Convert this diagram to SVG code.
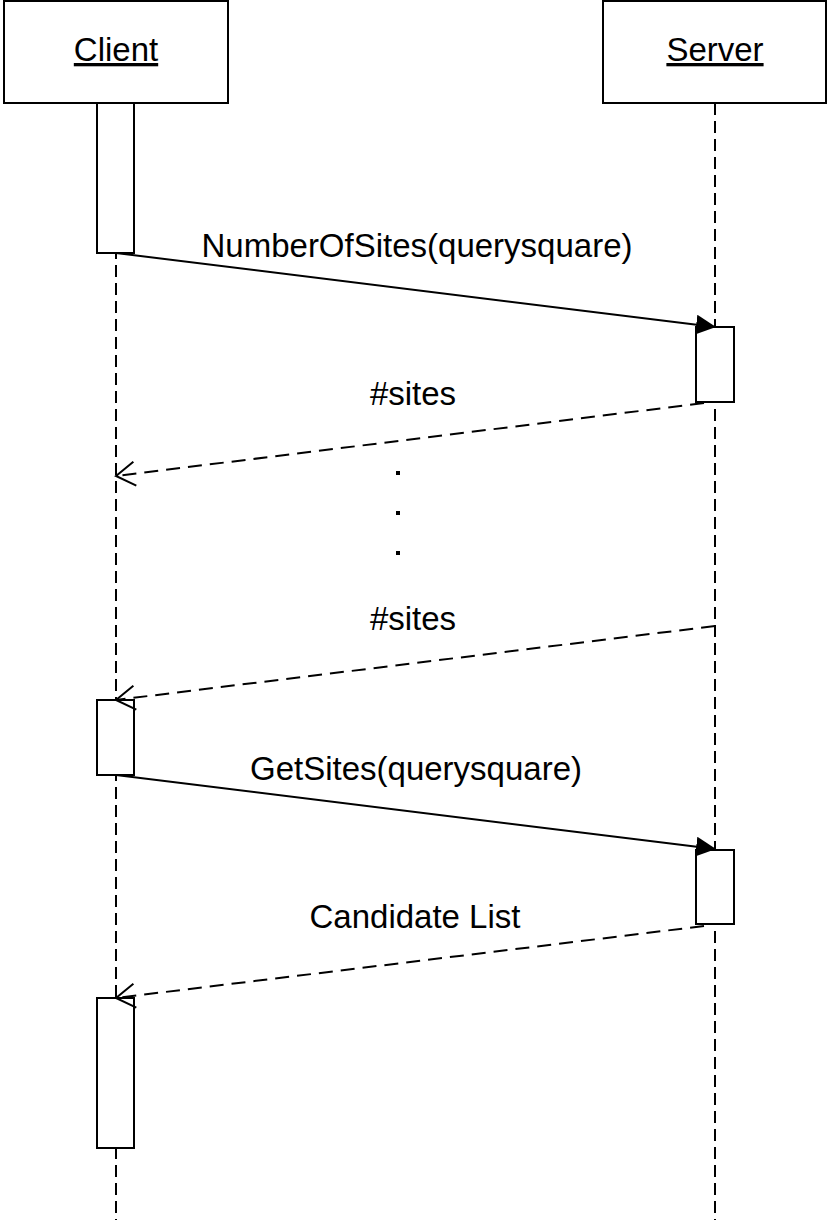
<svg xmlns="http://www.w3.org/2000/svg" width="827" height="1220" viewBox="0 0 827 1220">
<style>
.box{fill:#fff;stroke:#000;stroke-width:2}
.act{fill:#fff;stroke:#000;stroke-width:2}
.life{stroke:#000;stroke-width:2;stroke-dasharray:12,6;fill:none}
.msg{stroke:#000;stroke-width:2;fill:none}
.ret{stroke:#000;stroke-width:2;stroke-dasharray:14,8;fill:none}
text{font-family:"Liberation Sans",Arial,sans-serif;font-size:33px;fill:#000}
.title{text-decoration:underline;font-size:33px}
</style>
<defs>
<marker id="filled" markerWidth="20" markerHeight="20" refX="19" refY="10" orient="auto" markerUnits="userSpaceOnUse">
<path d="M0,0 L20,10 L0,20 z" fill="#000"/>
</marker>
<marker id="open" markerWidth="22" markerHeight="26" refX="20" refY="13" orient="auto" markerUnits="userSpaceOnUse">
<path d="M1,1 L20,13 L1,25" fill="none" stroke="#000" stroke-width="2"/>
</marker>
</defs>
<g id="lifelines">
<line class="life" x1="116" y1="103" x2="116" y2="1220"/>
<line class="life" x1="715" y1="103" x2="715" y2="1220"/>
</g>
<g id="client">
<rect class="box" x="4" y="1" width="224" height="102"/>
<text class="title" x="116" y="61" text-anchor="middle">Client</text>
</g>
<g id="server">
<rect class="box" x="603" y="1" width="223" height="102"/>
<text class="title" x="715" y="61" text-anchor="middle">Server</text>
</g>
<g id="client-act1"><rect class="act" x="97" y="103" width="37" height="150"/></g>
<g id="server-act1"><rect class="act" x="696" y="327" width="38" height="75"/></g>
<g id="client-act2"><rect class="act" x="97" y="700" width="37" height="75"/></g>
<g id="server-act2"><rect class="act" x="696" y="850" width="38" height="74"/></g>
<g id="client-act3"><rect class="act" x="97" y="998" width="37" height="150"/></g>
<g id="connectors">
<line class="msg" x1="116" y1="253" x2="715" y2="327" marker-end="url(#filled)"/>
<line class="ret" x1="704" y1="403" x2="116" y2="476" marker-end="url(#open)"/>
<line class="ret" x1="715" y1="626" x2="116" y2="700" marker-end="url(#open)"/>
<line class="msg" x1="116" y1="775" x2="715" y2="849" marker-end="url(#filled)"/>
<line class="ret" x1="704" y1="926" x2="116" y2="998" marker-end="url(#open)"/>
</g>
<g id="labels">
<text x="417" y="257" text-anchor="middle">NumberOfSites(querysquare)</text>
<text x="413" y="405" text-anchor="middle">#sites</text>
<text x="413" y="630" text-anchor="middle">#sites</text>
<text x="416" y="780" text-anchor="middle">GetSites(querysquare)</text>
<text x="415" y="928" text-anchor="middle">Candidate List</text>
</g>
<g id="ellipsis">
<rect x="396" y="471" width="4" height="4"/>
<rect x="396" y="511" width="4" height="4"/>
<rect x="396" y="551" width="4" height="4"/>
</g>
</svg>
